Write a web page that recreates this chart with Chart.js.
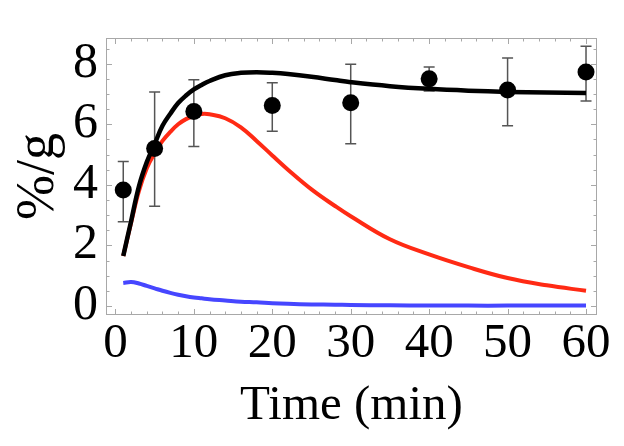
<!DOCTYPE html>
<html>
<head>
<meta charset="utf-8">
<script src="https://cdn.jsdelivr.net/npm/chart.js@4"></script>
<style>
  html, body { margin: 0; padding: 0; background: #ffffff; }
  #wrap { width: 624px; height: 446px; }
</style>
</head>
<body>
<div id="wrap"><canvas id="uptakeChart" width="624" height="446"></canvas></div>
<script>
// measured samples (time in min, %/g with error bar ends)
const sampleTimes = [1, 5, 10, 20, 30, 40, 50, 60];
const sampleMean = [3.83, 5.2, 6.42, 6.62, 6.71, 7.5, 7.13, 7.73];
const sampleLow = [2.78, 3.29, 5.27, 5.77, 5.36, 7.1, 5.95, 6.77];
const sampleHigh = [4.77, 7.07, 7.47, 7.37, 7.98, 7.89, 8.19, 8.58];

// model curves
const curveTimes = [1, 2, 3, 4, 5, 6, 7, 8, 9, 10, 11, 12, 14, 16, 18, 20, 22, 25, 28, 30, 35, 40, 45, 50, 55, 60];
const totalFit = [1.65, 2.8, 3.95, 4.75, 5.35, 5.95, 6.35, 6.7, 6.95, 7.15, 7.3, 7.43, 7.62, 7.7, 7.72, 7.7, 7.66, 7.57, 7.46, 7.39, 7.26, 7.17, 7.11, 7.07, 7.05, 7.03];
const redFit = [1.65, 2.75, 3.8, 4.55, 5.05, 5.45, 5.75, 6.0, 6.17, 6.28, 6.34, 6.33, 6.2, 5.9, 5.45, 4.97, 4.5, 3.85, 3.3, 2.96, 2.2, 1.7, 1.28, 0.92, 0.68, 0.5];
const blueFit = [0.76, 0.79, 0.74, 0.66, 0.58, 0.5, 0.43, 0.37, 0.32, 0.28, 0.25, 0.22, 0.18, 0.14, 0.12, 0.09, 0.07, 0.05, 0.04, 0.03, 0.02, 0.015, 0.01, 0.01, 0.01, 0.01];

// tick labels
const xTickValues = [0, 10, 20, 30, 40, 50, 60];
const yTickValues = [0, 2, 4, 6, 8];

const serif = 'Liberation Serif';

function toPoints(xs, ys) {
    return xs.map(function(x, i) { return { x: x, y: ys[i] }; });
}

function curve(ys, color, width, order) {
    return {
        type: 'line',
        data: toPoints(curveTimes, ys),
        borderColor: color,
        borderWidth: width,
        pointRadius: 0,
        tension: 0.4,
        fill: false,
        order: order
    };
}

// Mathematica style frame with inward ticks on all four sides
const framePlugin = {
    id: 'frame',
    afterDraw(chart) {
        const { ctx, chartArea: a, scales: { x, y } } = chart;
        ctx.save();
        ctx.strokeStyle = '#a8a8a8';
        ctx.lineWidth = 1;
        ctx.strokeRect(a.left + 0.5, a.top + 0.5, a.right - a.left - 1, a.bottom - a.top - 1);
        ctx.beginPath();
        for (let v = 0; v <= 60; v += 2) {
            const px = Math.round(x.getPixelForValue(v)) + 0.5;
            const len = v % 10 === 0 ? 6 : 3.5;
            ctx.moveTo(px, a.bottom); ctx.lineTo(px, a.bottom - len);
            ctx.moveTo(px, a.top); ctx.lineTo(px, a.top + len);
        }
        for (let v = 0; v <= 8.5; v += 0.5) {
            const py = Math.round(y.getPixelForValue(v)) + 0.5;
            const len = v % 2 === 0 ? 6 : 3.5;
            ctx.moveTo(a.left, py); ctx.lineTo(a.left + len, py);
            ctx.moveTo(a.right, py); ctx.lineTo(a.right - len, py);
        }
        ctx.stroke();
        ctx.restore();
    }
};

const errorBarPlugin = {
    id: 'errorBars',
    beforeDatasetsDraw(chart) {
        const { ctx, scales: { x, y } } = chart;
        ctx.save();
        ctx.strokeStyle = '#555555';
        ctx.lineWidth = 1.5;
        sampleTimes.forEach(function(t, i) {
            const px = x.getPixelForValue(t);
            const top = y.getPixelForValue(sampleHigh[i]);
            const bot = y.getPixelForValue(sampleLow[i]);
            ctx.beginPath();
            ctx.moveTo(px, top); ctx.lineTo(px, bot);
            ctx.moveTo(px - 5.5, top); ctx.lineTo(px + 5.5, top);
            ctx.moveTo(px - 5.5, bot); ctx.lineTo(px + 5.5, bot);
            ctx.stroke();
        });
        ctx.restore();
    }
};

const ctx = document.getElementById('uptakeChart').getContext('2d');
new Chart(ctx, {
    type: 'scatter',
    data: {
        datasets: [
            {
                label: 'data',
                data: toPoints(sampleTimes, sampleMean),
                backgroundColor: '#000000',
                borderWidth: 0,
                pointRadius: 8.5,
                order: 0
            },
            curve(totalFit, '#000000', 4.5, 1),
            curve(redFit, '#ff2a14', 4, 2),
            curve(blueFit, '#4646ff', 4, 3)
        ]
    },
    options: {
        responsive: false,
        animation: false,
        layout: { padding: { top: 12, right: 27, left: 0, bottom: 0 } },
        plugins: { legend: { display: false }, tooltip: { enabled: false } },
        scales: {
            x: {
                type: 'linear',
                min: -1.2,
                max: 61.4,
                grid: { display: false, drawTicks: false },
                border: { display: false },
                afterBuildTicks: function(s) { s.ticks = xTickValues.map(function(v) { return { value: v }; }); },
                afterFit: function(s) { s.height = 131; },
                ticks: { color: '#000', padding: 0, maxRotation: 0, font: { family: serif, size: 49 } },
                title: { display: true, text: 'Time (min)', color: '#000', padding: { top: 0, bottom: 10 }, font: { family: serif, size: 49 } }
            },
            y: {
                type: 'linear',
                min: -0.3,
                max: 8.85,
                grid: { display: false, drawTicks: false },
                border: { display: false },
                afterBuildTicks: function(s) { s.ticks = yTickValues.map(function(v) { return { value: v }; }); },
                afterFit: function(s) { s.width = 106; },
                ticks: { color: '#000', padding: 8, font: { family: serif, size: 50 } },
                title: { display: true, text: '%/g', color: '#000', padding: { top: 6, bottom: 0 }, font: { family: serif, size: 54 } }
            }
        }
    },
    plugins: [errorBarPlugin, framePlugin]
});
</script>
</body>
</html>
